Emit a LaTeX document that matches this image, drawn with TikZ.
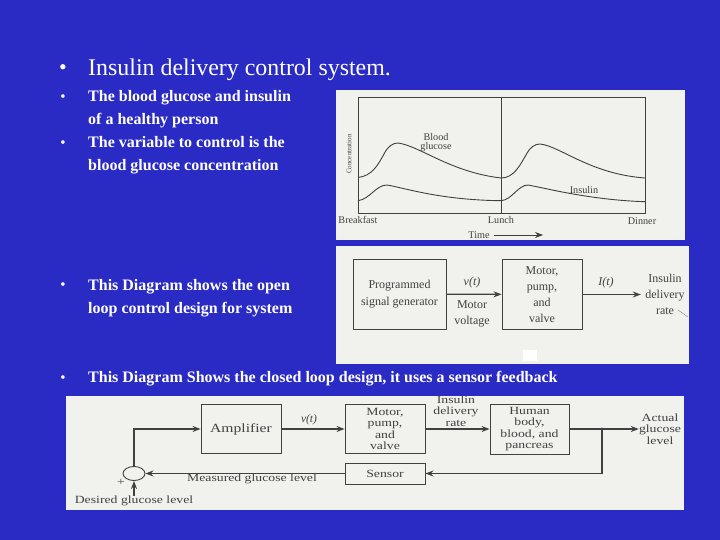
\documentclass[tikz,border=0pt]{standalone}
\usepackage{fontspec}
\setmainfont{Liberation Serif}
\newfontfamily\widefont[FakeStretch=1.25]{Liberation Serif}
\usetikzlibrary{arrows.meta,shapes.geometric}
\definecolor{slideblue}{RGB}{42,42,196}
\definecolor{panelgray}{RGB}{241,241,238}
\definecolor{inkgray}{RGB}{65,65,65}
\tikzset{
    bulletmark/.style={text=white, font=\fontsize{15}{15}\selectfont},
    slidetext/.style={text=white, anchor=west, align=left, inner sep=0pt,
                      font=\fontsize{16}{23}\selectfont\bfseries},
    blockbox/.style={draw=inkgray, line width=0.9pt, inner sep=0pt, align=center, text=inkgray},
    blocktext/.style={text=inkgray, align=center, inner sep=0pt},
    flow/.style={-{Stealth[length=8pt,width=6pt]}, draw=inkgray, line width=1.2pt},
    curve/.style={draw=black!75, line width=0.9pt},
    smalltext/.style={blocktext, font=\fontsize{10.2}{9}\selectfont},
    opentext/.style={blocktext, font=\fontsize{12}{16}\selectfont},
    closedtext/.style={blocktext, font=\widefont\fontsize{11}{11.3}\selectfont},
    closedbox/.style={blockbox, font=\widefont\fontsize{11}{11.3}\selectfont},
}

\begin{document}
\begin{tikzpicture}[x=1pt,y=-1pt]
    \fill[slideblue] (0,0) rectangle (720,540);
    \useasboundingbox (0,0) rectangle (720,540);

    % slide text
    \node[text=white, font=\fontsize{22}{22}\selectfont] (titlebullet) at (63,70) {•};
    \node[text=white, anchor=west, inner sep=0pt, font=\fontsize{23.9}{22}\selectfont] (title) at (88,70) {Insulin delivery control system.};
    \node[bulletmark] (bulleta) at (63,98) {•};
    \node[slidetext] (persontext) at (88,109.5) {The blood glucose and insulin\\of a healthy person};
    \node[bulletmark] (bulletb) at (63,144) {•};
    \node[slidetext] (variabletext) at (88,155.5) {The variable to control is the\\blood glucose concentration};
    \node[bulletmark] (bulletc) at (63,286) {•};
    \node[slidetext] (opentextline) at (88,298) {This Diagram shows the open\\loop control design for system};
    \node[bulletmark] (bulletd) at (63,379) {•};
    \node[slidetext] (closedtextline) at (88,379) {This Diagram Shows the closed loop design, it uses a sensor feedback};

    % meal curves
    \fill[panelgray] (336,90) rectangle (685,240);
    \draw[curve] (358,97) rectangle (645,213);
    \draw[curve, line width=0.6pt] (501,97) -- (501,213);
    \draw[curve] (358,177.5) .. controls (372,176) and (378,165) .. (384,154)
        .. controls (388,146) and (393,143) .. (398,143)
        .. controls (420,146) and (450,172) .. (501,178)
        .. controls (514,178) and (520,165) .. (526,155)
        .. controls (530,147) and (535,144) .. (540,144)
        .. controls (560,146) and (590,174) .. (645,178);
    \draw[curve] (358,200.7) .. controls (370,199) and (376,185) .. (387,185)
        .. controls (405,188) and (440,200) .. (501,200.7)
        .. controls (512,200) and (518,185) .. (528,185)
        .. controls (545,188) and (590,200) .. (645,201.7);
    \node[smalltext, rotate=90, font=\fontsize{7}{9}\selectfont] (conclabel) at (349,154) {Concentration};
    \node[smalltext] (glucoselabel) at (436,142.5) {Blood\\glucose};
    \node[smalltext] (insulinlabel) at (584,190) {Insulin};
    \node[smalltext] (breakfast) at (358,220) {Breakfast};
    \node[smalltext] (lunch) at (501,220) {Lunch};
    \node[smalltext] (dinner) at (642,221) {Dinner};
    \node[smalltext] (timelabel) at (479,235) {Time};
    \coordinate (timeend) at (543,235);
    \draw[flow, line width=0.7pt] (timelabel.east) ++(4,0) -- (timeend);

    % open loop
    \fill[panelgray] (336,246) rectangle (689,364);
    \fill[white] (523,350) rectangle (537,361);
    \node[blockbox, minimum width=93pt, minimum height=70pt, font=\fontsize{12}{17}\selectfont] (generator) at (399.5,294) {Programmed\\signal generator};
    \node[blockbox, minimum width=80pt, minimum height=70pt, font=\fontsize{12}{15.8}\selectfont] (pump) at (542,294.5) {Motor,\\pump,\\and\\valve};
    \node[opentext, text width=48pt] (rate) at (665,294.5) {Insulin\\delivery\\rate};
    \draw[flow] (generator) -- (pump);
    \draw[flow] (pump) -- (rate);
    \draw[inkgray!60, line width=0.5pt] (678,310) -- (688,317);
    \node[opentext, font=\fontsize{12}{16}\selectfont\itshape] (voltagesym) at (472,283) {v(t)};
    \node[opentext] (voltage) at (472,314) {Motor\\voltage};
    \node[opentext, font=\fontsize{12}{16}\selectfont\itshape] (ratesym) at (606,283) {I(t)};

    % closed loop
    \fill[panelgray] (66,396) rectangle (684,510);
    \node[closedbox, minimum width=80pt, minimum height=49pt, font=\widefont\fontsize{12.5}{12}\selectfont] (amplifier) at (241,429) {Amplifier};
    \node[closedbox, minimum width=80pt, minimum height=49pt] (motor) at (385,429) {Motor,\\pump,\\and\\valve};
    \node[closedbox, minimum width=79pt, minimum height=50pt] (body) at (529.5,429) {Human\\body,\\blood, and\\pancreas};
    \node[closedbox, minimum width=80pt, minimum height=21pt] (sensor) at (385,473.5) {Sensor};
    \node[draw=inkgray, line width=0.9pt, ellipse, minimum width=22pt, minimum height=14pt, inner sep=0pt] (summer) at (134,473.5) {};
    \node[closedtext] (actual) at (660,429) {Actual\\glucose\\level};
    \node[closedtext] (deliveryrate) at (456,411) {Insulin\\delivery\\rate};
    \node[closedtext] (desired) at (134,501) {Desired glucose level};
    \node[closedtext] (measured) at (252,479) {Measured glucose level};
    \node[closedtext, font=\fontsize{11.5}{11.3}\selectfont\itshape] (amplsym) at (309,420) {v(t)};
    \node[closedtext] (plus) at (121,482) {+};
    \coordinate (branch) at (602,429);
    \draw[flow] (summer.north) |- (amplifier.west);
    \draw[flow] (amplifier) -- (motor);
    \draw[flow] (motor) -- (body);
    \draw[flow] (body) -- (actual);
    \draw[flow] (branch) |- (sensor.east);
    \draw[flow] (sensor) -- (summer);
    \draw[flow] (desired) -- (summer);
    \fill[inkgray] (branch) circle (1.6pt);
\end{tikzpicture}
\end{document}
